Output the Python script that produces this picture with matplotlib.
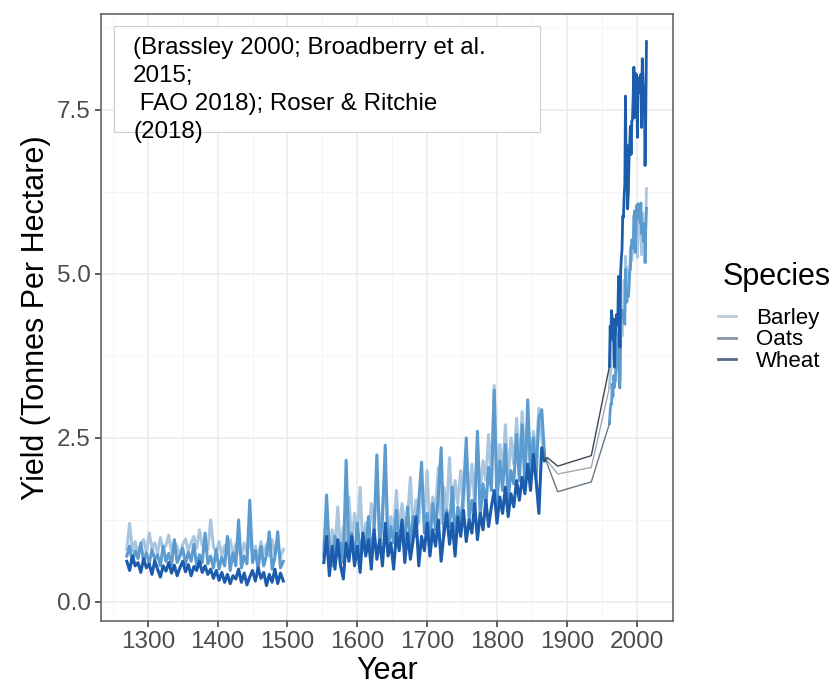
import matplotlib
matplotlib.use("Agg")
import matplotlib.pyplot as plt
from matplotlib.lines import Line2D
from matplotlib.patches import Rectangle

plt.rcParams["font.family"] = ["Liberation Sans", "DejaVu Sans"]

# medieval records, every 4th year 1270-1494
years_med = list(range(1270, 1495, 4))
barley_med = [0.80, 1.20, 0.78, 0.92, 0.72, 0.88, 0.95, 0.75, 1.05, 0.82,
              0.90, 0.74, 0.98, 0.80, 0.86, 1.02, 0.76, 0.92, 0.84, 0.70,
              0.88, 0.96, 0.78, 0.90, 1.00, 0.82, 1.10, 0.86, 0.94, 0.80,
              1.25, 0.84, 0.76, 0.92, 0.70, 0.86, 0.78, 0.95, 0.72, 0.88,
              0.80, 0.68, 0.90, 0.75, 0.98, 0.70, 0.85, 0.66, 0.92, 0.74,
              0.88, 0.70, 0.95, 0.72, 0.84, 0.68, 0.80]
oats_med = [0.70, 0.85, 0.60, 0.78, 0.66, 0.90, 0.62, 0.75, 0.58, 0.80,
            0.65, 0.72, 0.55, 0.85, 0.62, 0.74, 0.56, 0.95, 0.60, 0.70,
            0.82, 0.58, 0.76, 0.62, 0.88, 0.55, 0.72, 0.60, 1.05, 0.58,
            0.70, 0.52, 0.80, 0.50, 0.68, 0.55, 1.00, 0.48, 0.75, 0.55,
            1.25, 0.52, 0.70, 0.58, 1.55, 0.60, 0.78, 0.50, 0.85, 0.55,
            0.72, 1.07, 0.50, 0.68, 1.07, 0.52, 0.62]
wheat_med = [0.62, 0.48, 0.70, 0.55, 0.60, 0.45, 0.66, 0.52, 0.58, 0.42,
             0.63, 0.50, 0.38, 0.55, 0.47, 0.60, 0.44, 0.56, 0.40, 0.52,
             0.62, 0.46, 0.57, 0.40, 0.54, 0.48, 0.62, 0.45, 0.55, 0.42,
             0.50, 0.36, 0.48, 0.33, 0.45, 0.30, 0.42, 0.28, 0.40, 0.35,
             0.50, 0.30, 0.44, 0.26, 0.38, 0.48, 0.32, 0.52, 0.36, 0.45,
             0.25, 0.42, 0.30, 0.50, 0.28, 0.44, 0.32]

# early modern records, every 4th year 1552-1868
years_em = list(range(1552, 1869, 4))
barley_em = [0.85, 1.30, 0.70, 1.10, 0.80, 1.45, 0.75, 1.15, 0.90, 1.60,
             0.85, 1.35, 1.00, 1.75, 0.80, 1.20, 0.95, 1.50, 1.10, 1.85,
             1.00, 1.45, 1.95, 0.95, 1.30, 1.10, 1.70, 1.05, 1.50, 1.15,
             1.30, 1.90, 1.05, 1.55, 1.20, 1.85, 1.25, 2.00, 1.10, 1.60,
             1.35, 2.05, 1.20, 1.75, 1.40, 2.20, 1.30, 1.85, 1.50, 2.00,
             1.45, 2.30, 1.60, 2.10, 1.50, 2.40, 1.70, 2.15, 1.85, 2.55,
             1.90, 3.30, 1.75, 2.40, 2.00, 2.70, 1.85, 2.50, 2.10, 2.80,
             2.05, 2.90, 2.20, 2.75, 1.95, 2.60, 2.25, 2.95, 2.50, 2.25]
oats_em = [0.70, 1.63, 0.75, 0.55, 1.00, 0.70, 0.90, 0.60, 2.16, 0.75,
           1.05, 0.65, 1.20, 0.75, 1.00, 0.80, 1.30, 0.70, 1.10, 2.24,
           0.85, 1.25, 2.39, 0.78, 1.15, 0.90, 1.40, 0.85, 1.20, 0.95,
           1.45, 0.85, 1.30, 1.00, 1.55, 2.13, 1.05, 1.35, 0.90, 1.50,
           1.10, 1.60, 2.35, 1.00, 1.40, 1.15, 1.75, 0.95, 1.45, 1.20,
           1.65, 2.50, 1.25, 1.55, 1.35, 2.60, 1.30, 1.80, 1.45, 2.05,
           1.70, 3.23, 1.50, 2.15, 1.70, 2.40, 1.55, 2.00, 1.80, 2.55,
           1.85, 2.70, 1.75, 3.08, 2.00, 2.50, 1.90, 2.80, 2.93, 2.25]
wheat_em = [0.60, 1.00, 0.40, 0.85, 0.50, 0.95, 0.55, 0.35, 0.90, 0.62,
            1.00, 0.55, 0.85, 0.45, 1.05, 0.70, 0.95, 0.50, 1.10, 0.65,
            0.95, 0.55, 1.20, 0.70, 0.90, 0.50, 1.05, 0.78, 1.25, 0.60,
            1.05, 0.65, 0.95, 1.30, 0.55, 1.00, 0.78, 1.20, 0.70, 1.10,
            0.85, 1.25, 0.62, 1.05, 1.35, 0.88, 1.20, 0.70, 1.30, 1.00,
            1.40, 0.92, 1.25, 1.05, 1.50, 0.95, 1.35, 1.10, 1.55, 1.15,
            1.45, 1.70, 1.20, 1.60, 1.35, 1.75, 1.30, 1.65, 1.45, 1.85,
            1.55, 1.90, 1.65, 2.10, 1.70, 2.25, 1.85, 1.35, 2.35, 2.15]

# sparse points bridging to FAO
years_gap = [1872, 1887, 1935]
barley_gap = [2.15, 1.95, 2.05]
oats_gap = [2.10, 1.68, 1.83]
wheat_gap = [2.20, 2.07, 2.23]

# FAO annual 1961-2014
years_fao = list(range(1961, 2015))
barley_fao = [3.27, 3.47, 3.54, 3.94, 4.01, 3.72, 3.97, 3.64, 3.62, 3.36,
              3.88, 3.94, 3.94, 4.27, 3.54, 3.37, 4.01, 4.39, 4.05, 4.39,
              4.41, 4.90, 4.44, 5.27, 4.92, 5.11, 4.85, 4.89, 4.96, 5.00,
              5.40, 5.34, 5.20, 5.35, 5.40, 5.89, 5.77, 5.32, 5.65, 5.86,
              5.25, 5.61, 5.82, 5.89, 5.86, 5.64, 5.29, 5.94, 5.82, 5.66,
              5.77, 5.54, 5.80, 6.30]
oats_fao = [2.72, 2.91, 3.02, 3.01, 3.32, 3.13, 3.45, 3.27, 3.38, 3.52,
            3.60, 3.85, 3.95, 4.11, 3.32, 3.26, 4.04, 4.45, 4.38, 4.44,
            4.32, 4.34, 4.23, 5.07, 4.66, 4.57, 4.79, 4.65, 4.75, 5.04,
            5.07, 5.40, 5.52, 5.50, 5.39, 5.82, 5.96, 5.33, 5.72, 6.04,
            5.85, 6.07, 5.96, 5.90, 5.78, 6.08, 5.61, 5.76, 5.77, 5.49,
            5.76, 5.17, 5.68, 6.00]
wheat_fao = [3.59, 4.20, 4.08, 4.44, 4.29, 3.99, 4.31, 3.58, 3.96, 4.17,
             4.38, 4.22, 4.34, 4.96, 4.42, 3.88, 5.01, 5.24, 5.36, 5.88,
             5.86, 6.17, 6.37, 7.71, 6.33, 6.96, 5.99, 6.23, 6.74, 6.97,
             7.25, 6.82, 7.33, 7.35, 7.70, 8.15, 7.38, 7.56, 8.05, 8.01,
             7.08, 7.99, 7.78, 7.76, 7.96, 8.04, 7.23, 8.28, 7.93, 7.70,
             7.75, 6.65, 7.39, 8.54]

species = ["Barley", "Oats", "Wheat"]
line_colors = {"Barley": "#a9c6e0", "Oats": "#5b9bd0", "Wheat": "#1c5cad"}
bridge_colors = {"Barley": "#a0aab5", "Oats": "#6a7785", "Wheat": "#3b4656"}
key_colors = {"Barley": "#c3ccd5", "Oats": "#8596a8", "Wheat": "#566b85"}

series = {
    "Barley": (barley_med, barley_em, barley_gap, barley_fao),
    "Oats": (oats_med, oats_em, oats_gap, oats_fao),
    "Wheat": (wheat_med, wheat_em, wheat_gap, wheat_fao),
}

source_note = ("(Brassley 2000; Broadberry et al.\n2015;\n"
               " FAO 2018); Roser & Ritchie\n(2018)")


def dibujar(ax):
    for sp in species:
        med, em, gap, fao = series[sp]
        c = line_colors[sp]
        ax.plot(years_med, med, color=c, lw=2.2, zorder=3)
        ax.plot(years_em, em, color=c, lw=2.2, zorder=3)
        ax.plot(years_fao, fao, color=c, lw=2.0, zorder=3)
    for sp in species:
        med, em, gap, fao = series[sp]
        bx = [years_em[-1]] + years_gap + [years_fao[0]]
        by = [em[-1]] + gap + [fao[0]]
        ax.plot(bx, by, color=bridge_colors[sp], lw=1.0, zorder=4)


fig = plt.figure(figsize=(8.37, 6.9), dpi=100)
ax = fig.add_axes([101 / 837, 69 / 690, 572 / 837, 607 / 690])

dibujar(ax)

ax.set_xlim(1233, 2052)
ax.set_ylim(-0.29, 8.96)
ax.set_xticks(range(1300, 2001, 100))
ax.set_xticks(range(1250, 2051, 100), minor=True)
ax.set_yticks([0, 2.5, 5, 7.5])
ax.set_yticklabels(["0.0", "2.5", "5.0", "7.5"])
ax.set_yticks([1.25, 3.75, 6.25, 8.75], minor=True)
ax.grid(which="major", color="#ebebeb", lw=1.2)
ax.grid(which="minor", color="#f5f5f5", lw=0.7)
ax.set_axisbelow(True)
for s in ax.spines.values():
    s.set_color("#5a5a5a")
    s.set_linewidth(1.1)
ax.tick_params(which="major", length=4.3, width=1.1, color="#333333",
               labelcolor="#4d4d4d", labelsize=17.5, pad=3)
ax.tick_params(which="minor", length=0)

ax.set_xlabel("Year", fontsize=22, labelpad=2)
ax.set_ylabel("Yield (Tonnes Per Hectare)", fontsize=22, labelpad=4)

ax.add_patch(Rectangle((0.0227, 0.8056), 0.7448, 0.1744, transform=ax.transAxes,
                       facecolor="white", edgecolor="#d0d0d0", lw=0.8, zorder=5))
ax.text(0.056, 0.962, source_note, transform=ax.transAxes, fontsize=17.4,
        va="top", ha="left", linespacing=1.35, zorder=6)

handles = [Line2D([], [], color=key_colors[sp], lw=2) for sp in species]
fig.text(723 / 837, 1 - 277 / 690, "Species", fontsize=22, va="center", ha="left")
fig.legend(handles, species, loc="upper left",
           bbox_to_anchor=(718 / 837, 1 - 308 / 690), frameon=False,
           fontsize=16, handlelength=0.8, handletextpad=0.9,
           labelspacing=0.02, borderpad=0, borderaxespad=0)

fig.savefig("out.png", dpi=100)
